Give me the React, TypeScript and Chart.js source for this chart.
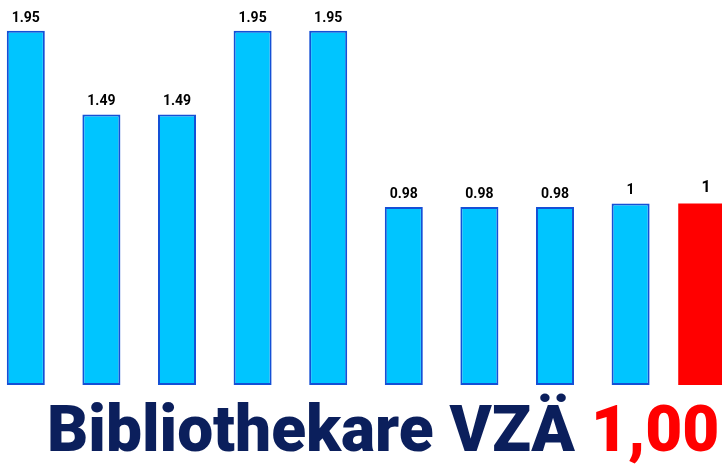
import React, { useEffect, useRef } from "react";
import { Chart, registerables } from "chart.js";

Chart.register(...registerables);

const categories = ["1", "2", "3", "4", "5", "6", "7", "8", "9", "10"];
const blueValues: (number | null)[] = [1.95, 1.49, 1.49, 1.95, 1.95, 0.98, 0.98, 0.98, 1, null];
const redValues: (number | null)[] = [null, null, null, null, null, null, null, null, null, 1];
const titleMain = "Bibliothekare VZÄ ";
const titleValue = "1,00";

const labelPlugin = {
  id: "valueLabels",
  afterDatasetsDraw(chart: any) {
    const ctx = chart.ctx;
    chart.data.datasets.forEach((ds: any, di: number) => {
      const meta = chart.getDatasetMeta(di);
      meta.data.forEach((el: any, i: number) => {
        const v = ds.data[i];
        if (v === null || v === undefined) return;
        ctx.save();
        ctx.fillStyle = "#000";
        ctx.textAlign = "center";
        ctx.textBaseline = "alphabetic";
        const big = di === 1;
        ctx.font = `bold ${big ? 16 : 14}px Roboto`;
        ctx.fillText(String(v), el.x, el.y - (big ? 11 : 9));
        ctx.restore();
      });
    });
  },
};

export default function App() {
  const ref = useRef<HTMLCanvasElement>(null);
  useEffect(() => {
    if (!ref.current) return;
    const chart = new Chart(ref.current, {
      type: "bar",
      data: {
        labels: categories,
        datasets: [
          {
            data: blueValues,
            backgroundColor: "#00c5ff",
            borderColor: "#1450d6",
            borderWidth: 2,
            borderSkipped: false,
            barPercentage: 0.503,
            categoryPercentage: 1,
            grouped: false,
          } as any,
          {
            data: redValues,
            backgroundColor: "#ff0000",
            borderWidth: 0,
            barPercentage: 0.74,
            categoryPercentage: 1,
            grouped: false,
          } as any,
        ],
      },
      options: {
        animation: false,
        responsive: false,
        maintainAspectRatio: false,
        layout: { padding: 0 },
        plugins: { legend: { display: false }, tooltip: { enabled: false }, title: { display: false } },
        scales: {
          x: { display: false, offset: true },
          y: { display: false, min: 0, max: 2.12 },
        },
      },
      plugins: [labelPlugin],
    });
    return () => chart.destroy();
  }, []);

  return (
    <div
      style={{
        position: "absolute",
        left: 0,
        top: 0,
        width: 722,
        height: 464,
        overflow: "hidden",
        background: "#fff",
      }}
    >
      <canvas
        ref={ref}
        width={756}
        height={385}
        style={{ position: "absolute", left: -12, top: 0, width: 756, height: 385 }}
      />
      <div
        style={{
          position: "absolute",
          left: 47,
          top: 398,
          fontFamily: "Roboto",
          fontWeight: 900,
          fontSize: 64,
          lineHeight: 1,
          whiteSpace: "nowrap",
          color: "#0b1f5c",
        }}
      >
        {titleMain}
        <span style={{ color: "#ff0000" }}>{titleValue}</span>
      </div>
    </div>
  );
}
